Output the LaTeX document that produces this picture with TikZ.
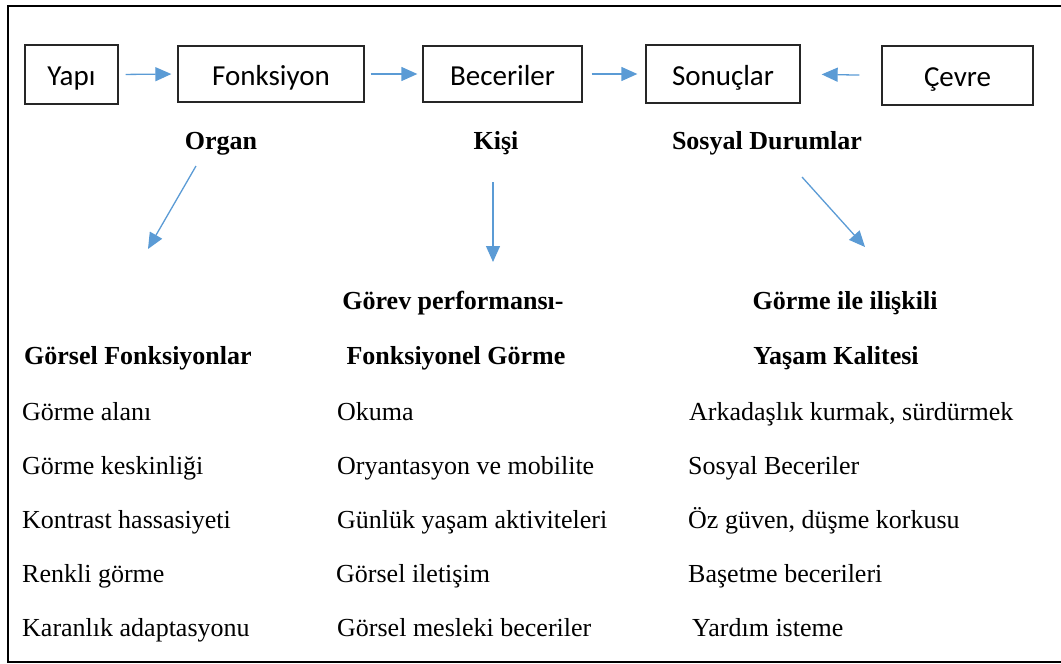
\documentclass[tikz,border=0pt]{standalone}
\usepackage{fontspec}
\setmainfont{Liberation Serif}
\newfontfamily\boxfont{Carlito}
\usetikzlibrary{arrows.meta}
\definecolor{arrowblue}{HTML}{5B9BD5}
\tikzset{
  topbox/.style={draw=black!85, line width=1.3pt, inner sep=0pt, text height=22.6pt, text depth=0pt, font=\boxfont\fontsize{29}{33}\selectfont},
  flowarrow/.style={draw=arrowblue, line width=1.3pt, -{Triangle[length=16pt,width=14pt]}},
  headtext/.style={inner sep=0pt, font=\bfseries\fontsize{26}{30}\selectfont},
  itemtext/.style={inner sep=0pt, anchor=base west, font=\fontsize{26}{30}\selectfont},
}
\begin{document}
\begin{tikzpicture}[x=1pt,y=-1pt]
\useasboundingbox (0,0) rectangle (1061,664);
\draw[line width=2.4pt, line cap=rect] (1064,6) -- (8,6) -- (8,662) -- (1064,662);

% top boxes
\node[topbox, minimum width=93pt, minimum height=59pt] (yapi) at (71.5,74.5) {Yapı};
\node[topbox, minimum width=186pt, minimum height=56pt] (fonk) at (271,74) {Fonksiyon};
\node[topbox, minimum width=159pt, minimum height=56pt] (bece) at (502.5,74) {Beceriler};
\node[topbox, minimum width=154pt, minimum height=58pt] (sonu) at (723,74) {Sonuçlar};
\node[topbox, minimum width=151pt, minimum height=59pt] (cevre) at (957.5,75.5) {Çevre};

\draw[flowarrow, shorten <=7pt, shorten >=6pt] (yapi.east) -- (fonk.west);
\draw[flowarrow, shorten <=6pt, shorten >=5pt] (fonk.east) -- (bece.west);
\draw[flowarrow, shorten <=9pt, shorten >=8pt] (bece.east) -- (sonu.west);
\draw[flowarrow, shorten <=22pt, shorten >=21pt] (cevre.west) -- (sonu.east);

% level headings
\node[headtext, anchor=base] (organ) at (221,149) {Organ};
\node[headtext, anchor=base] (kisi) at (496,149) {Kişi};
\node[headtext, anchor=base] (sosyal) at (767,149) {Sosyal Durumlar};

\coordinate (oa) at (196,166);
\coordinate (ob) at (148,249);
\coordinate (ka) at (493,182);
\coordinate (kb) at (493,262);
\coordinate (sa) at (802,177);
\coordinate (sb) at (865,247);
\draw[flowarrow] (oa) -- (ob);
\draw[flowarrow] (ka) -- (kb);
\draw[flowarrow] (sa) -- (sb);

% column headings
\node[headtext, anchor=base] (gorev) at (453,309) {Görev performansı-};
\node[headtext, anchor=base] (gormeile) at (845,309) {Görme ile ilişkili};
\node[headtext, anchor=base west] (gorsel) at (24,364) {Görsel Fonksiyonlar};
\node[headtext, anchor=base] (fonkgor) at (456,364) {Fonksiyonel Görme};
\node[headtext, anchor=base] (yasam) at (836,364) {Yaşam Kalitesi};

% column 1
\node[itemtext] (c1a) at (22,420) {Görme alanı};
\node[itemtext] (c1b) at (22,474) {Görme keskinliği};
\node[itemtext] (c1c) at (22,528) {Kontrast hassasiyeti};
\node[itemtext] (c1d) at (22,582) {Renkli görme};
\node[itemtext] (c1e) at (22,636) {Karanlık adaptasyonu};

% column 2
\node[itemtext] (c2a) at (337,420) {Okuma};
\node[itemtext] (c2b) at (337,474) {Oryantasyon ve mobilite};
\node[itemtext] (c2c) at (337,528) {Günlük yaşam aktiviteleri};
\node[itemtext] (c2d) at (336,582) {Görsel iletişim};
\node[itemtext] (c2e) at (337,636) {Görsel mesleki beceriler};

% column 3
\node[itemtext] (c3a) at (689,420) {Arkadaşlık kurmak, sürdürmek};
\node[itemtext] (c3b) at (688,474) {Sosyal Beceriler};
\node[itemtext] (c3c) at (688,528) {Öz güven, düşme korkusu};
\node[itemtext] (c3d) at (688,582) {Başetme becerileri};
\node[itemtext] (c3e) at (692,636) {Yardım isteme};
\end{tikzpicture}
\end{document}
